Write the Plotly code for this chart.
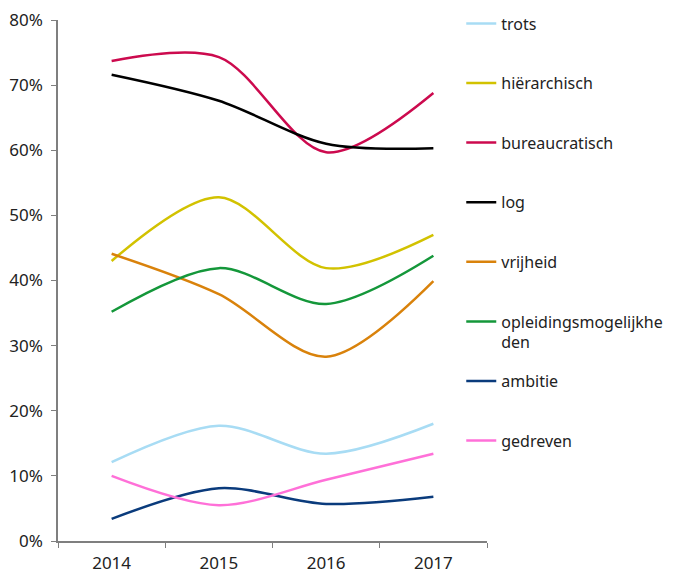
import plotly.graph_objects as go

years = ["2014", "2015", "2016", "2017"]
series_names = ["trots", "hiërarchisch", "bureaucratisch", "log", "vrijheid",
                "opleidingsmogelijkhe<br>den", "ambitie", "gedreven"]
trots = [0.121, 0.177, 0.134, 0.180]
hierarchisch = [0.430, 0.528, 0.419, 0.470]
bureaucratisch = [0.737, 0.743, 0.597, 0.688]
log = [0.716, 0.676, 0.610, 0.603]
vrijheid = [0.441, 0.379, 0.283, 0.399]
opleidingsmogelijkheden = [0.352, 0.419, 0.364, 0.438]
ambitie = [0.034, 0.081, 0.057, 0.068]
gedreven = [0.100, 0.055, 0.094, 0.134]
y_ticks = [0, 0.1, 0.2, 0.3, 0.4, 0.5, 0.6, 0.7, 0.8]

values = [trots, hierarchisch, bureaucratisch, log, vrijheid,
          opleidingsmogelijkheden, ambitie, gedreven]
colors = ["#A8DCF4", "#D2C200", "#CC0A4E", "#000000", "#D9820B",
          "#14973A", "#0A3B7C", "#FF70D8"]

FONT = "Noto Sans"
fig = go.Figure()
for i, (name, vals, col) in enumerate(zip(series_names, values, colors)):
    # pad single-line legend labels to two lines so every entry has equal height
    label = name if "<br>" in name else name + "<br>\u00a0"
    fig.add_trace(go.Scatter(
        x=years, y=vals, name=label, mode="lines",
        line=dict(color=col, width=2.5, shape="spline", smoothing=0.9),
        legendgroup=str(i),
        hovertemplate=name.replace("<br>", "") + ": %{y:.0%}<extra></extra>",
    ))

fig.update_layout(
    width=677, height=573,
    margin=dict(l=58, r=190, t=20, b=32, autoexpand=False),
    paper_bgcolor="white", plot_bgcolor="white",
    font=dict(family=FONT, size=17, color="#222222"),
    showlegend=True,
    legend=dict(x=0.94, xanchor="left", y=1.0259, yanchor="top",
                tracegroupgap=15, valign="top", maxheight=600,
                font=dict(family=FONT, size=16, color="#222222"),
                bgcolor="rgba(0,0,0,0)"),
    xaxis=dict(type="category", range=[-0.5, 3.5], showgrid=False,
               showline=True, linecolor="#7f7f7f", linewidth=1.5,
               ticks="outside", tickson="boundaries", ticklen=5,
               tickcolor="#7f7f7f", tickfont=dict(size=17), automargin=False,
               ticklabelstandoff=6),
    yaxis=dict(range=[0, 0.8], tickvals=y_ticks, tickformat=".0%",
               showgrid=False, zeroline=False, showline=True,
               linecolor="#7f7f7f", linewidth=1.5, ticks="outside",
               ticklen=5, tickcolor="#7f7f7f", tickfont=dict(size=17),
               automargin=False, ticklabelstandoff=5),
)

fig.write_html("out.html", config={"displayModeBar": False},
               post_script="document.body.style.margin='0';document.body.style.overflow='hidden';")
